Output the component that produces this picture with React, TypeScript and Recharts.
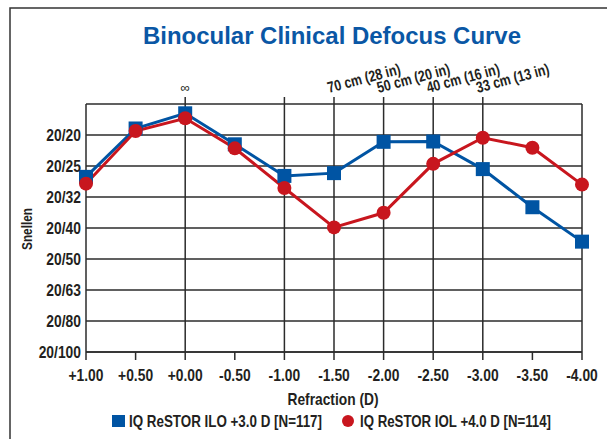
import { LineChart, Line, XAxis, YAxis, CartesianGrid, ReferenceLine } from 'recharts';

// refraction in diopters, visual acuity as logMAR (0 = 20/20)
const refraction = [1, 0.5, 0, -0.5, -1, -1.5, -2, -2.5, -3, -3.5, -4];
const iloPlus3 = [0.135, -0.021, -0.07, 0.03, 0.132, 0.123, 0.022, 0.021, 0.11, 0.233, 0.344];
const iolPlus4 = [0.157, -0.013, -0.054, 0.043, 0.171, 0.298, 0.251, 0.093, 0.009, 0.041, 0.16];

const snellenTicks = [-0.1, 0, 0.1, 0.2, 0.3, 0.4, 0.5, 0.6, 0.7];
const snellenLabels = ['', '20/20', '20/25', '20/32', '20/40', '20/50', '20/63', '20/80', '20/100'];

const distanceAt = [0, -1, -1.5, -2, -2.5, -3];
const distanceLabels = ['\u221E', '', '70 cm (28 in)', '50 cm (20 in)', '40 cm (16 in)', '33 cm (13 in)'];

const seriesNames = ['IQ ReSTOR ILO +3.0 D [N=117]', 'IQ ReSTOR IOL +4.0 D [N=114]'];

const BLUE = '#0054a3';
const RED = '#c8161e';
const INK = '#231f20';
const GRID = '#2b2b2b';
const FONT = "'Liberation Sans', Arial, sans-serif";
const SQUEEZE = 0.84;

const data = refraction.map((r, i) => ({ refraction: r, ilo: iloPlus3[i], iol: iolPlus4[i] }));

const fmtRefraction = (v: number) => (v >= 0 ? '+' : '-') + Math.abs(v).toFixed(2);
const fmtSnellen = (v: number) => snellenLabels[snellenTicks.findIndex((t) => Math.abs(t - v) < 1e-6)] ?? '';

// condensed-looking text: regular font squeezed horizontally
const Narrow = ({ x, y, anchor, dy, size, weight, children }: any) => (
  <text
    transform={`translate(${x} ${y}) scale(${SQUEEZE} 1)`}
    x={0}
    y={0}
    dy={dy}
    textAnchor={anchor}
    fontSize={size}
    fontWeight={weight}
    fill={INK}
    fontFamily={FONT}
  >
    {children}
  </text>
);

const XTick = (props: any) => (
  <Narrow x={props.x} y={props.y} anchor="middle" dy="0.71em" size={16.5} weight={700}>
    {fmtRefraction(props.payload.value)}
  </Narrow>
);

const YTick = (props: any) => (
  <Narrow x={props.x} y={props.y} anchor="end" dy="0.355em" size={16.5} weight={700}>
    {fmtSnellen(props.payload.value)}
  </Narrow>
);

const SquareDot = (props: any) => {
  const { cx, cy, index } = props;
  return <rect key={`sq-${index}`} x={cx - 7} y={cy - 7} width={14} height={14} fill={BLUE} />;
};

const distanceLabel = (text: string) => (props: any) => {
  const vb = props.viewBox || {};
  const x = vb.x ?? 0;
  const y = vb.y ?? 0;
  if (!text) return null;
  if (text === '\u221E') {
    return (
      <text x={x} y={y - 5} textAnchor="middle" fontSize={13} fill={INK} fontFamily={FONT}>
        {text}
      </text>
    );
  }
  const tx = x - 5;
  const ty = y - 4;
  return (
    <text
      transform={`translate(${tx} ${ty}) rotate(-15) scale(0.8 1)`}
      x={0}
      y={0}
      fontSize={15.5}
      fontWeight={700}
      fill={INK}
      fontFamily={FONT}
    >
      {text}
    </text>
  );
};

export default function App() {
  return (
    <div style={{ position: 'fixed', left: 0, top: 0, width: 607, height: 439, background: '#fff', overflow: 'hidden' }}>
      <LineChart
        width={607}
        height={439}
        data={data}
        margin={{ top: 104, right: 25, bottom: 57, left: 0 }}
        style={{ position: 'absolute', left: 0, top: 0 }}
      >
        <CartesianGrid vertical={false} stroke={GRID} strokeWidth={1.5} />
        <XAxis
          dataKey="refraction"
          type="number"
          domain={[-4, 1]}
          reversed
          ticks={refraction}
          height={30}
          tickSize={8}
          tickMargin={9}
          axisLine={{ stroke: GRID, strokeWidth: 1.5 }}
          tickLine={{ stroke: GRID, strokeWidth: 1.5 }}
          tick={XTick}
          interval={0}
        />
        <YAxis
          type="number"
          domain={[-0.1, 0.7]}
          reversed
          ticks={snellenTicks}
          width={86}
          tickSize={0}
          tickMargin={5}
          tickLine={false}
          axisLine={{ stroke: GRID, strokeWidth: 1.5 }}
          tick={YTick}
          interval={0}
        />
        {distanceAt.map((d, i) => (
          <ReferenceLine
            key={`d-${i}`}
            segment={[{ x: d, y: 0.7 }, { x: d, y: -0.1225 }]}
            ifOverflow="visible"
            stroke={GRID}
            strokeWidth={1.5}
            label={distanceLabel(distanceLabels[i])}
          />
        ))}
        <ReferenceLine x={-4} stroke={GRID} strokeWidth={1.5} />
        <Line
          dataKey="ilo"
          name={seriesNames[0]}
          stroke={BLUE}
          strokeWidth={3}
          dot={SquareDot}
          isAnimationActive={false}
        />
        <Line
          dataKey="iol"
          name={seriesNames[1]}
          stroke={RED}
          strokeWidth={3}
          dot={{ r: 7, fill: RED, stroke: RED, strokeWidth: 0 }}
          isAnimationActive={false}
        />
      </LineChart>
      <svg width={607} height={439} style={{ position: 'absolute', left: 0, top: 0, pointerEvents: 'none' }}>
        <path d="M10 460 L10 8 L620 8" fill="none" stroke="#333" strokeWidth={1.5} />
        <text
          x={332}
          y={44}
          textAnchor="middle"
          fontSize={24}
          fontWeight={700}
          fill="#0a57a5"
          fontFamily={FONT}
          textLength={378}
          lengthAdjust="spacingAndGlyphs"
        >
          Binocular Clinical Defocus Curve
        </text>
        <text
          x={32}
          y={229}
          transform="rotate(-90 32 229)"
          textAnchor="middle"
          fontSize={14}
          fontWeight={700}
          fill={INK}
          fontFamily={FONT}
          textLength={42}
          lengthAdjust="spacingAndGlyphs"
        >
          Snellen
        </text>
        <text
          x={333}
          y={405}
          textAnchor="middle"
          fontSize={17}
          fontWeight={700}
          fill={INK}
          fontFamily={FONT}
          textLength={91}
          lengthAdjust="spacingAndGlyphs"
        >
          Refraction (D)
        </text>
        <rect x={112} y={415} width={13} height={12} fill={BLUE} />
        <text
          x={129}
          y={427}
          fontSize={16.5}
          fontWeight={700}
          fill={INK}
          fontFamily={FONT}
          textLength={193}
          lengthAdjust="spacingAndGlyphs"
        >
          {seriesNames[0]}
        </text>
        <circle cx={348} cy={421} r={6} fill={RED} />
        <text
          x={360}
          y={427}
          fontSize={16.5}
          fontWeight={700}
          fill={INK}
          fontFamily={FONT}
          textLength={191}
          lengthAdjust="spacingAndGlyphs"
        >
          {seriesNames[1]}
        </text>
      </svg>
    </div>
  );
}
